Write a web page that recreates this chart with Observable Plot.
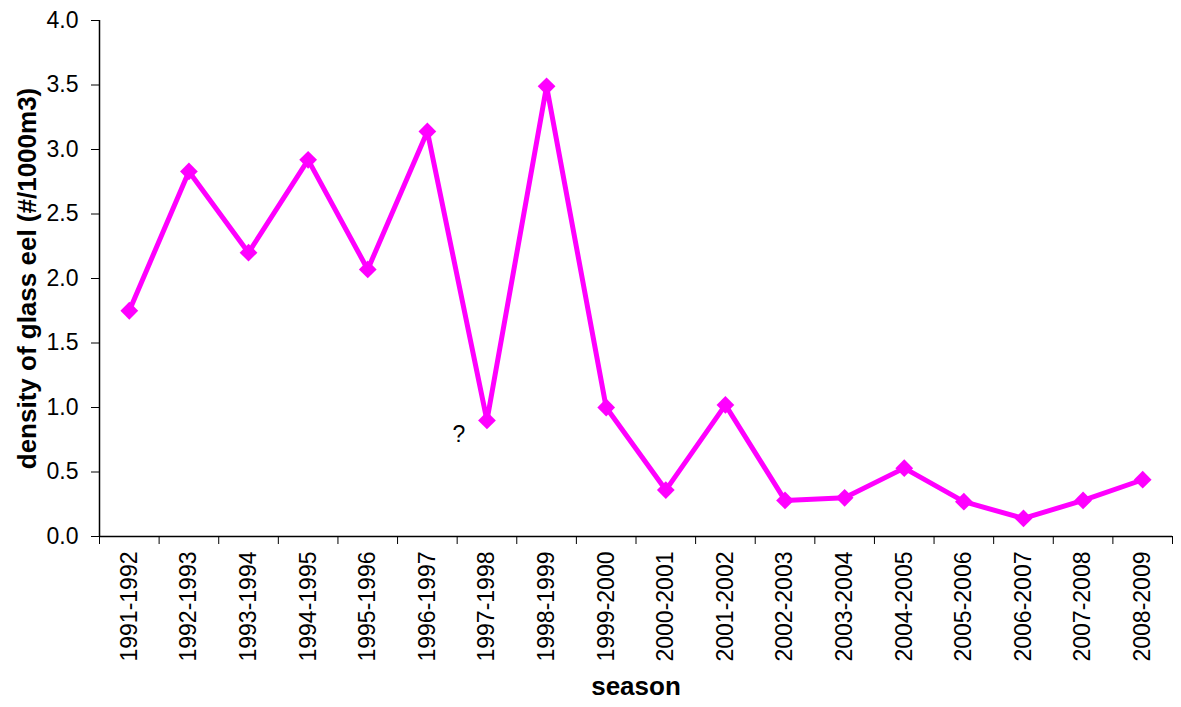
<!DOCTYPE html>
<html><head><meta charset="utf-8">
<script src="https://cdn.jsdelivr.net/npm/d3@7"></script>
<script src="https://cdn.jsdelivr.net/npm/@observablehq/plot@0.6"></script>
<style>body{margin:0;background:#fff}</style>
</head><body><div id="chart"></div>
<script>
const seasons = ["1991-1992","1992-1993","1993-1994","1994-1995","1995-1996","1996-1997","1997-1998","1998-1999","1999-2000","2000-2001","2001-2002","2002-2003","2003-2004","2004-2005","2005-2006","2006-2007","2007-2008","2008-2009"];
const density = [1.75,2.83,2.20,2.92,2.07,3.14,0.90,3.49,1.00,0.36,1.02,0.28,0.30,0.53,0.27,0.14,0.28,0.44];
const yTicks = [0,0.5,1,1.5,2,2.5,3,3.5,4];
const noteSeason = ["1997-1998"];
const noteText = ["?"];
const noteValue = [0.79];
const xTitle = "season";
const yTitle = "density of glass eel (#/1000m3)";

const data = seasons.map((s, i) => ({season: s, i, density: density[i]}));
const notes = noteSeason.map((s, k) => ({i: seasons.indexOf(s), label: noteText[k], value: noteValue[k]}));
const boundaries = d3.range(seasons.length + 1).map(i => i - 0.5);

const chart = Plot.plot({
  width: 1181, height: 707,
  marginLeft: 99, marginRight: 9, marginTop: 20, marginBottom: 171,
  style: {fontFamily: "'Liberation Sans', Arial, sans-serif", background: "#fff", color: "#000"},
  x: {type: "linear", domain: [-0.5, seasons.length - 0.5]},
  y: {domain: [0, 4]},
  marks: [
    Plot.axisY({ticks: yTicks, tickFormat: d3.format(".1f"), tickSize: 8, tickPadding: 13, fontSize: 23, label: null}),
    Plot.axisX({ticks: d3.range(seasons.length), tickFormat: i => seasons[i], tickSize: 0, tickPadding: 15, tickRotate: -90, fontSize: 23, label: null}),
    Plot.axisX({ticks: boundaries, tickFormat: () => "", tickSize: 8, label: null}),
    Plot.ruleY([0], {stroke: "#000", strokeWidth: 1.5}),
    Plot.ruleX([-0.5], {stroke: "#000", strokeWidth: 1.5}),
    Plot.line(data, {x: "i", y: "density", stroke: "#ff00ff", strokeWidth: 5}),
    Plot.dot(data, {x: "i", y: "density", symbol: d3.symbolDiamond2, r: 8, fill: "#ff00ff"}),
    Plot.text(notes, {x: "i", y: "value", text: "label", dx: -28, fontSize: 23}),
    Plot.text([xTitle], {frameAnchor: "bottom", dy: 158, fontSize: 26, fontWeight: "bold"}),
    Plot.text([yTitle], {frameAnchor: "left", textAnchor: "middle", dx: -72, rotate: -90, fontSize: 26, fontWeight: "bold"})
  ]
});
document.getElementById("chart").append(chart);
</script>
</body></html>
